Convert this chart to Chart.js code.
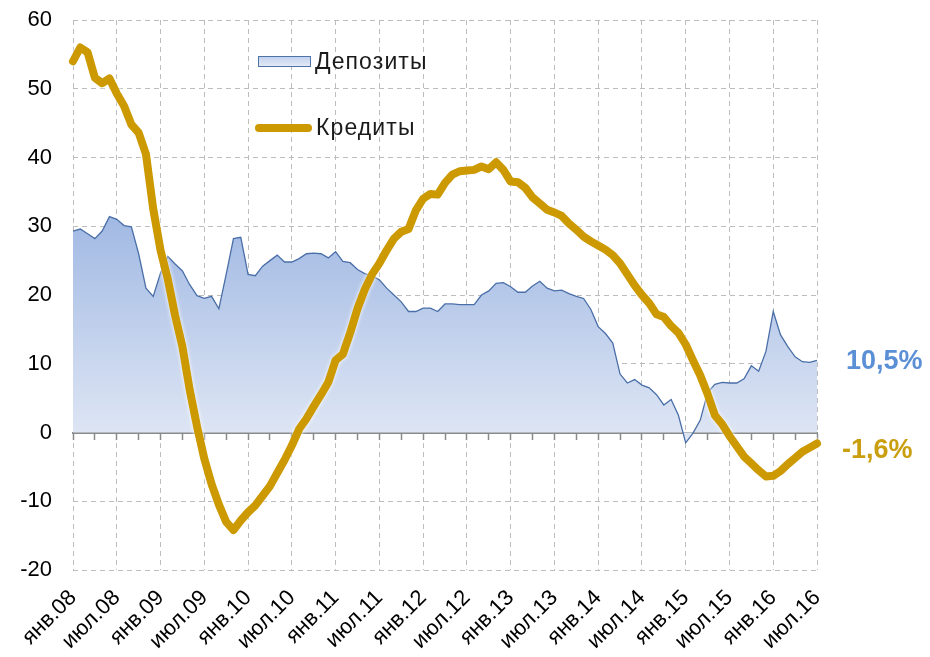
<!DOCTYPE html>
<html>
<head>
<meta charset="utf-8">
<script src="https://cdn.jsdelivr.net/npm/chart.js@4.4.1/dist/chart.umd.min.js"></script>
<style>
    body { margin: 0; background: #fff; }
    #wrap { position: relative; width: 930px; height: 657px; font-family: 'Liberation Sans', Arial, sans-serif; }
    #chart { position: absolute; left: 0; top: 0; }
    .legend-item { position: absolute; display: flex; align-items: center; font-size: 23px; letter-spacing: 1.1px; color: #1a1a1a; white-space: nowrap; }
    .swatch-area { width: 51px; height: 9px; border: 1px solid #4f72a8; background: linear-gradient(#c3d2ee, #e3eaf6); margin-right: 4px; }
    .swatch-line { width: 57px; height: 8px; border-radius: 4px; background: #cc9900; margin-right: 4px; }
    .end-label { position: absolute; font-weight: bold; font-size: 27px; white-space: nowrap; transform: translateY(-50%); }
</style>
</head>
<body>
<div id="wrap">
    <canvas id="chart" width="930" height="657"></canvas>
    <div class="legend-item" style="left:258px; top:48px;"><span class="swatch-area"></span>Депозиты</div>
    <div class="legend-item" style="left:255px; top:114px;"><span class="swatch-line"></span>Кредиты</div>
    <div class="end-label" id="depLabel" style="left:846px; color:#5b8fd6;">10,5%</div>
    <div class="end-label" id="credLabel" style="left:842px; color:#c99e0f;">-1,6%</div>
</div>
<script>
const monthNames = ['янв', 'фев', 'мар', 'апр', 'май', 'июн', 'июл', 'авг', 'сен', 'окт', 'ноя', 'дек'];

// monthly categories янв.08 .. июл.16
const months = [];
for (let y = 8; y <= 16; y++) {
    for (let mi = 0; mi < 12; mi++) {
        if (y === 16 && mi > 6) break;
        months.push(monthNames[mi] + '.' + String(y).padStart(2, '0'));
    }
}

// Депозиты, % г/г
const deposits = [
    29.3, 29.6, 28.9, 28.2, 29.3, 31.4, 31.0, 30.1, 29.9, 26.0, 21.0, 19.8,
    23.2, 25.6, 24.5, 23.5, 21.5, 19.9, 19.5, 19.8, 18.0, 23.0, 28.2, 28.4,
    23.0, 22.8, 24.2, 25.0, 25.8, 24.8, 24.8, 25.3, 26.0, 26.1, 26.0, 25.4,
    26.3, 24.9, 24.7, 23.7, 23.1, 22.8, 22.2, 21.0, 20.0, 19.0, 17.6, 17.6,
    18.1, 18.1, 17.6, 18.7, 18.7, 18.6, 18.6, 18.6, 20.0, 20.6, 21.7, 21.8,
    21.2, 20.4, 20.4, 21.3, 22.0, 21.0, 20.6, 20.7, 20.2, 19.8, 19.5, 17.9,
    15.4, 14.4, 13.0, 8.5, 7.2, 7.7, 6.9, 6.5, 5.5, 4.0, 4.8, 2.5,
    -1.5, -0.1, 1.8, 5.8, 7.0, 7.3, 7.2, 7.2, 7.8, 9.7, 8.9, 11.8,
    17.6, 14.2, 12.5, 11.0, 10.3, 10.2, 10.5
];

// Кредиты, % г/г
const credits = [
    54.0, 56.0, 55.3, 51.6, 50.8, 51.5, 49.3, 47.5, 44.8, 43.6, 40.5, 32.5,
    26.5, 22.3, 17.0, 12.5, 6.2, 0.9, -3.8, -7.5, -10.5, -13.0, -14.2, -12.8,
    -11.6, -10.6, -9.2, -7.8, -5.9, -4.0, -1.9, 0.5, 2.0, 3.8, 5.5, 7.3,
    10.5, 11.4, 14.5, 18.0, 20.8, 23.0, 24.6, 26.5, 28.2, 29.2, 29.6, 32.3,
    34.0, 34.7, 34.6, 36.3, 37.5, 38.0, 38.1, 38.2, 38.7, 38.3, 39.3, 38.2,
    36.5, 36.4, 35.6, 34.2, 33.3, 32.4, 32.0, 31.5, 30.4, 29.5, 28.5, 27.8,
    27.2, 26.6, 25.8, 24.6, 23.0, 21.4, 20.0, 18.8, 17.2, 16.8, 15.5, 14.5,
    12.8, 10.5, 8.3, 5.6, 2.5, 1.2, -0.5, -2.0, -3.5, -4.5, -5.5, -6.4,
    -6.3, -5.6, -4.6, -3.7, -2.8, -2.2, -1.6
];

const yTicks = { min: -20, max: 60, step: 10 };
const gold = '#cc9900';
const gridGray = '#bdbdbd';
const axisGray = '#8a8a8a';
const tickFont = { family: "'Liberation Sans', Arial, sans-serif", size: 22 };

function depositsFill(context) {
    const { ctx, chartArea, scales } = context.chart;
    if (!chartArea) return '#c3d2ee';
    const g = ctx.createLinearGradient(0, scales.y.getPixelForValue(32), 0, scales.y.getPixelForValue(-2));
    g.addColorStop(0, '#a0b8e3');
    g.addColorStop(1, '#e1e8f5');
    return g;
}

// credits line is drawn last (above the zero axis), with a white glow
const creditsOnTop = {
    id: 'creditsOnTop',
    beforeDatasetDraw(chart, args) {
        if (args.index === 1) return false;
    },
    afterDraw(chart) {
        const ctx = chart.ctx;
        ctx.save();
        ctx.shadowColor = '#ffffff';
        ctx.shadowBlur = 4;
        chart.getDatasetMeta(1).controller.draw();
        ctx.restore();
    }
};

const chart = new Chart(document.getElementById('chart'), {
    type: 'line',
    data: {
        labels: months,
        datasets: [
            {
                label: 'Депозиты',
                data: deposits,
                borderColor: '#4a6fa8',
                borderWidth: 1.3,
                backgroundColor: depositsFill,
                fill: 'origin',
                pointRadius: 0,
                tension: 0
            },
            {
                label: 'Кредиты',
                data: credits,
                borderColor: gold,
                borderWidth: 8,
                borderJoinStyle: 'round',
                borderCapStyle: 'round',
                fill: false,
                pointRadius: 0,
                tension: 0
            }
        ]
    },
    options: {
        responsive: false,
        animation: false,
        devicePixelRatio: 1,
        layout: { padding: { top: 20, right: 113, left: 0, bottom: 0 } },
        plugins: {
            legend: { display: false },
            tooltip: { enabled: false }
        },
        scales: {
            x: {
                type: 'category',
                offset: false,
                grid: {
                    color: ctx => (ctx.index % 6 === 0 ? gridGray : 'transparent'),
                    lineWidth: 1,
                    drawTicks: false
                },
                border: { display: false, dash: [5, 4] },
                ticks: {
                    autoSkip: false,
                    maxRotation: 45,
                    minRotation: 45,
                    padding: 15,
                    color: '#000',
                    font: tickFont,
                    callback: function (val, idx) {
                        return idx % 6 === 0 ? this.getLabelForValue(val) : '';
                    }
                },
                afterFit: scale => { scale.height = 87; }
            },
            x0: {
                type: 'category',
                offset: false,
                position: { y: 0 },
                z: 1,
                grid: {
                    drawOnChartArea: false,
                    drawTicks: true,
                    tickLength: 6,
                    tickWidth: 1.5,
                    tickColor: ctx => (ctx.index % 3 === 0 ? axisGray : 'transparent')
                },
                border: { display: true, color: axisGray, width: 2 },
                ticks: { display: false, autoSkip: false }
            },
            y: {
                min: yTicks.min,
                max: yTicks.max,
                grid: { color: gridGray, lineWidth: 1, drawTicks: false },
                border: { display: false, dash: [5, 4] },
                ticks: {
                    stepSize: yTicks.step,
                    padding: 21,
                    color: '#000',
                    font: tickFont
                },
                afterFit: scale => {
                    scale.width = 73;
                    scale.paddingTop = 0;
                    scale.paddingBottom = 0;
                }
            }
        }
    },
    plugins: [creditsOnTop]
});

// end-of-series labels next to the last values
const yScale = chart.scales.y;
document.getElementById('depLabel').style.top = yScale.getPixelForValue(deposits[deposits.length - 1]) + 'px';
document.getElementById('credLabel').style.top = (yScale.getPixelForValue(credits[credits.length - 1]) + 5) + 'px';
</script>
</body>
</html>
